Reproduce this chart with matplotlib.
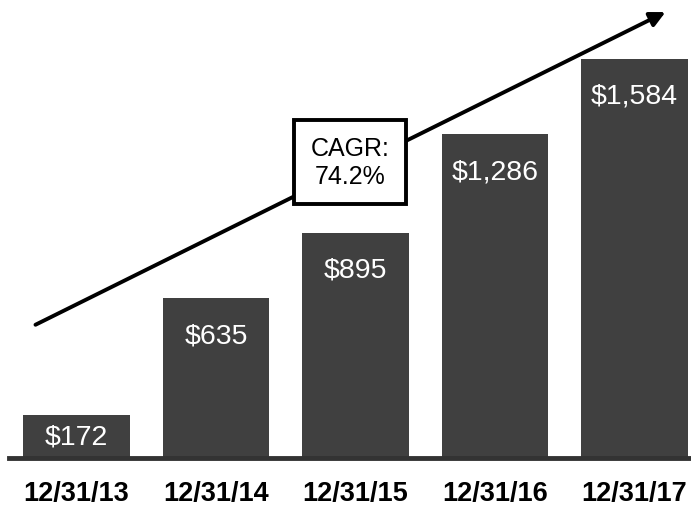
import matplotlib.pyplot as plt

plt.rcParams['font.family'] = ['Liberation Sans', 'DejaVu Sans']

dates = ['12/31/13', '12/31/14', '12/31/15', '12/31/16', '12/31/17']
values = [172, 635, 895, 1286, 1584]
cagr_text = 'CAGR:\n74.2%'

fig = plt.figure(figsize=(6.91, 5.06), dpi=100)
ax = fig.add_axes([9 / 691, 47 / 506, 682 / 691, 459 / 506])

x = list(range(len(dates)))
ax.bar(x, values, width=0.765, color='#404040', zorder=2)

for xi, v in zip(x, values):
    off = 22 if v < 300 else 37
    ax.text(xi, v - off * 3.97, f'${v:,}', ha='center', va='center',
            color='white', fontsize=20.5, zorder=3)

ax.set_xlim(-0.484, 4.405)
ax.set_ylim(0, 1822)
ax.axhline(0, color='#333333', linewidth=3.5, zorder=4, clip_on=False)

ax.set_xticks(x)
ax.set_xticklabels(dates, fontsize=19.5, fontweight='bold')
ax.tick_params(axis='x', length=0, pad=16)
ax.set_yticks([])
for s in ax.spines.values():
    s.set_visible(False)

# growth arrow
ax.annotate('', xy=(4.24, 1775), xytext=(-0.312, 524),
            arrowprops=dict(arrowstyle='-|>,head_length=0.9,head_width=0.45',
                            color='black', lw=2.8), zorder=5)
ax.text(1.96, 1175, cagr_text, ha='center', va='center', fontsize=18,
        linespacing=1.2, zorder=6,
        bbox=dict(boxstyle='square,pad=0.65', facecolor='white',
                  edgecolor='black', linewidth=2.8))

fig.savefig('out.png', dpi=100)
